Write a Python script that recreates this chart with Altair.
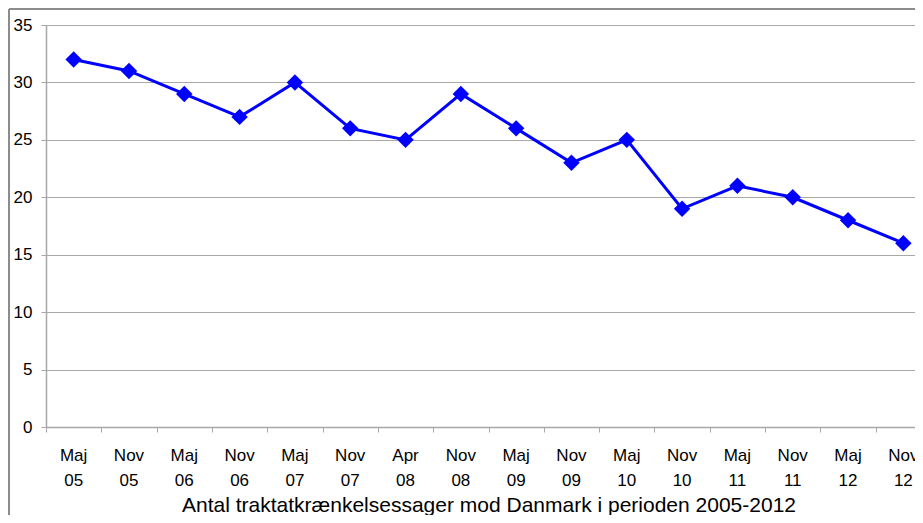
import altair as alt
import pandas as pd

categories = ["Maj 05", "Nov 05", "Maj 06", "Nov 06", "Maj 07", "Nov 07", "Apr 08", "Nov 08",
              "Maj 09", "Nov 09", "Maj 10", "Nov 10", "Maj 11", "Nov 11", "Maj 12", "Nov 12"]
values = [32, 31, 29, 27, 30, 26, 25, 29, 26, 23, 25, 19, 21, 20, 18, 16]
y_ticks = [0, 5, 10, 15, 20, 25, 30, 35]
x_title = "Antal traktatkrænkelsessager mod Danmark i perioden 2005-2012"

n = len(categories)
df = pd.DataFrame({"idx": list(range(n)), "period": categories, "count": values})

FONT = "Liberation Sans"
GRID = "#a8a8a8"

# plot area is wider than the window (cropped on the right like the reference)
VIEW_W = 869
FULL_W = 885
VIEW_H = 402
x_max = -0.5 + n * VIEW_W / FULL_W
boundaries = [i - 0.5 for i in range(n)]

x_scale = alt.Scale(domain=[-0.5, x_max], nice=False, zero=False)

x_enc = alt.X(
    "idx:Q",
    scale=x_scale,
    axis=alt.Axis(
        title=x_title,
        values=boundaries,
        labels=False,
        tickSize=5,
        tickColor=GRID,
        domainColor=GRID,
        domainWidth=1.5,
        titleFont=FONT,
        titleFontSize=21,
        titleFontWeight="normal",
        titleColor="black",
        titlePadding=62,
        titleX=FULL_W / 2,
        grid=False,
    ),
)
y_enc = alt.Y(
    "count:Q",
    scale=alt.Scale(domain=[0, 35], nice=False),
    axis=alt.Axis(
        title=None,
        values=y_ticks,
        labelFont=FONT,
        labelFontSize=17,
        labelColor="black",
        labelPadding=9,
        tickSize=5,
        tickColor=GRID,
        domainColor=GRID,
        domainWidth=1.5,
        gridColor=GRID,
        gridWidth=1,
        grid=True,
    ),
)

base = alt.Chart(df)
line = base.mark_line(color="#0000FF", strokeWidth=3).encode(x=x_enc, y=y_enc)
pts = base.mark_point(shape="diamond", filled=True, size=270, opacity=1, color="#0000FF").encode(
    x=alt.X("idx:Q", scale=x_scale), y="count:Q"
)
labels = base.mark_text(
    lineBreak=" ", lineHeight=25, font=FONT, fontSize=17, color="black",
    baseline="alphabetic", align="center",
).encode(
    x=alt.X("idx:Q", scale=x_scale), y=alt.value(VIEW_H + 34), text="period:N"
)

frame_df = pd.DataFrame({"k": [0]})
frame_v = alt.Chart(frame_df).mark_rule(color="#8c8c8c", strokeWidth=2).encode(
    x=alt.value(-37), y=alt.value(-16), y2=alt.value(700)
)
frame_h = alt.Chart(frame_df).mark_rule(color="#8c8c8c", strokeWidth=2).encode(
    x=alt.value(-37), x2=alt.value(1200), y=alt.value(-16)
)

chart = (
    alt.layer(line, pts, labels, frame_v, frame_h)
    .properties(
        width=VIEW_W,
        height=VIEW_H,
        autosize=alt.AutoSizeParams(type="none"),
        padding={"left": 38, "top": 17, "right": 0, "bottom": 88},
    )
    .configure_view(stroke=None)
)

chart.save("out.html", embed_options={"renderer": "svg", "actions": False})
